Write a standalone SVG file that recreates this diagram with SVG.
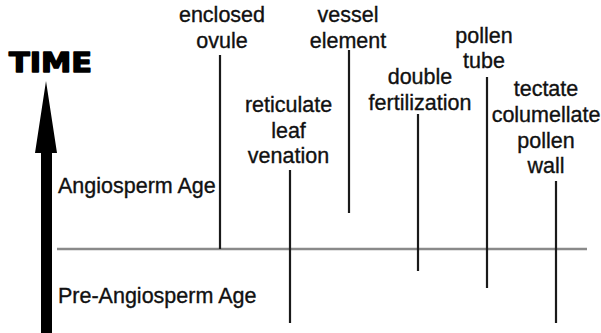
<svg xmlns="http://www.w3.org/2000/svg" width="601" height="333" viewBox="0 0 601 333">
<style>
.lbl{font-family:"Liberation Sans",Arial,sans-serif;font-size:21.5px;fill:#111;stroke:#111;stroke-width:0.35;text-anchor:middle}
.age{font-family:"Liberation Sans",Arial,sans-serif;font-size:21.5px;fill:#111;stroke:#111;stroke-width:0.35}
.ev{stroke:#1a1a1a;stroke-width:2.2;fill:none}
.base{stroke:#8a8a8a;stroke-width:2.5;fill:none}
</style>
<rect width="601" height="333" fill="#fff"/>
<g id="time-axis">
<text x="9" y="71.5" font-family="'DejaVu Sans',sans-serif" font-weight="bold" font-size="26.5" textLength="83" lengthAdjust="spacingAndGlyphs" fill="#000" stroke="#000" stroke-width="1.4" stroke-linejoin="round">TIME</text>
<polygon points="46,81 57,153 52,153 52,333 41,333 41,153 35,153" fill="#000"/>
</g>
<g id="ages">
<text class="age" x="58" y="193">Angiosperm Age</text>
<text class="age" x="58" y="303">Pre-Angiosperm Age</text>
</g>
<g id="connectors">
<line class="base" x1="57" y1="249" x2="587" y2="249"/>
<line class="ev" x1="220" y1="55" x2="220" y2="249"/>
<line class="ev" x1="290" y1="170" x2="290" y2="323"/>
<line class="ev" x1="349" y1="50" x2="349" y2="213"/>
<line class="ev" x1="418" y1="114" x2="418" y2="271"/>
<line class="ev" x1="487" y1="77" x2="487" y2="288"/>
<line class="ev" x1="556" y1="181" x2="556" y2="323"/>
</g>
<g id="enclosed-ovule">
<text class="lbl" x="222" y="22">enclosed</text>
<text class="lbl" x="222" y="48">ovule</text>
</g>
<g id="reticulate-leaf-venation">
<text class="lbl" x="288.5" y="112">reticulate</text>
<text class="lbl" x="288.5" y="138">leaf</text>
<text class="lbl" x="288.5" y="163">venation</text>
</g>
<g id="vessel-element">
<text class="lbl" x="348" y="22">vessel</text>
<text class="lbl" x="348" y="48">element</text>
</g>
<g id="double-fertilization">
<text class="lbl" x="420" y="84">double</text>
<text class="lbl" x="420" y="110">fertilization</text>
</g>
<g id="pollen-tube">
<text class="lbl" x="484" y="43">pollen</text>
<text class="lbl" x="484" y="68">tube</text>
</g>
<g id="tectate-columellate-pollen-wall">
<text class="lbl" x="546" y="96">tectate</text>
<text class="lbl" x="546" y="122">columellate</text>
<text class="lbl" x="546" y="148">pollen</text>
<text class="lbl" x="546" y="173">wall</text>
</g>
</svg>
